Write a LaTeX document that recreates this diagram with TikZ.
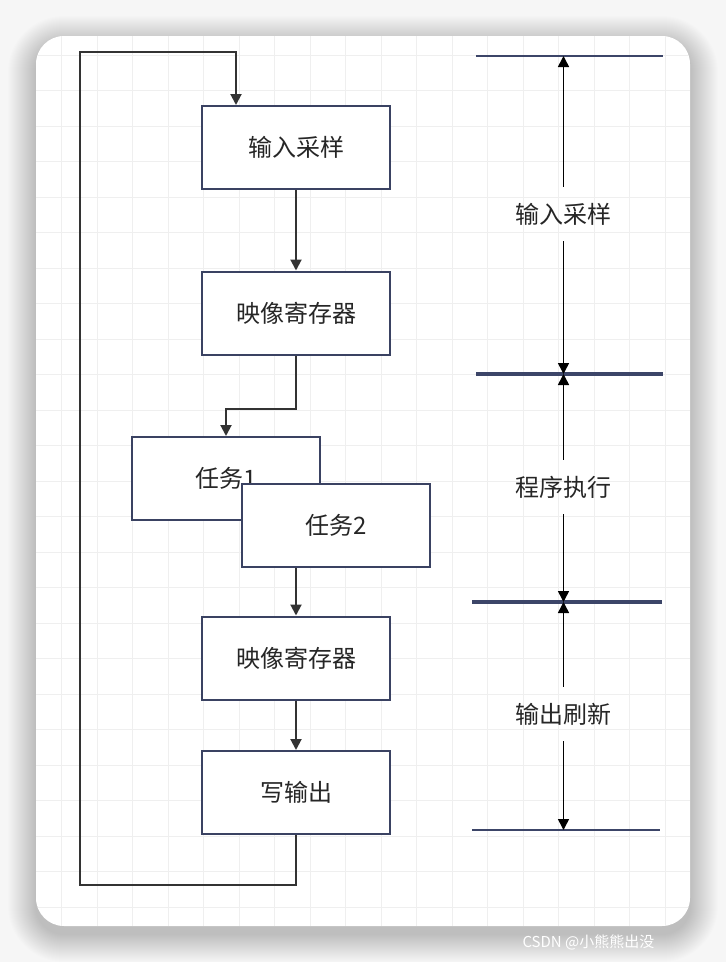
\documentclass[tikz,border=0pt]{standalone}
\usepackage{fontspec}
\setmainfont{Noto Sans CJK SC}
\usetikzlibrary{arrows.meta}

\definecolor{boxline}{HTML}{3A4262}
\definecolor{linkline}{HTML}{333333}
\definecolor{phaseline}{HTML}{3C4568}
\definecolor{gridline}{HTML}{EFEFEF}
\definecolor{pagebg}{HTML}{F6F6F6}

\begin{document}
\begin{tikzpicture}[x=1pt,y=-1pt,
    box/.style={draw=boxline,line width=2pt,fill=white,minimum width=188pt,minimum height=83pt,inner sep=0pt,font=\fontsize{24}{28}\selectfont,text=black!85},
    flow/.style={draw=linkline,line width=2pt,-{Triangle[width=11pt,length=11pt]}},
    phase/.style={draw=phaseline,line width=3.4pt},
    span/.style={draw=black,line width=1.6pt,-{Triangle[width=11pt,length=11pt]}},
    tag/.style={font=\fontsize{24}{28}\selectfont,text=black!85,inner xsep=0pt,inner ysep=16pt}]
        \useasboundingbox (0,0) rectangle (726,962);
        % page and card
        \fill[pagebg] (0,0) rectangle (726,962);
        \foreach \i in {1,...,28} {
            \pgfmathsetmacro\rr{28+\i}
            \fill[black,opacity=0.006,rounded corners=\rr pt] (36-\i,44-\i) rectangle (690+\i,934+\i);
        }
        \fill[white,rounded corners=28pt] (36,36) rectangle (690,926);
        \begin{scope}
            \clip[rounded corners=28pt] (36,36) rectangle (690,926);
            \foreach \gx in {0,...,17}
                \draw[gridline,line width=1pt] (61.5+35.5*\gx,36) -- (61.5+35.5*\gx,926);
            \foreach \gy in {0,...,24}
                \draw[gridline,line width=1pt] (36,55+35.5*\gy) -- (690,55+35.5*\gy);
        \end{scope}
        \node[anchor=west,text=white,font=\fontsize{15}{18}\selectfont] (mark) at (519,942) {CSDN @小熊熊出没};

        % scan cycle
        \node[box] (sample) at (296,147.5) {输入采样};
        \node[box] (image1) at (296,313) {映像寄存器};
        \node[box] (task1) at (226,478.5) {任务1};
        \node[box] (task2) at (336,525.5) {任务2};
        \node[box] (image2) at (296,658) {映像寄存器};
        \node[box] (write) at (296,792.5) {写输出};

        \coordinate (loopbot) at (80,885);
        \coordinate (looptop) at (80,52);

        \draw[flow] (sample) -- (image1);
        \draw[flow] (image1.south) -- ++(0,53) -| (task1.north);
        \draw[flow] (task2.south -| image2.north) -- (image2);
        \draw[flow] (image2) -- (write);
        \draw[flow] (write.south) |- (loopbot) -- (looptop) -| ([xshift=-60pt]sample.north);

        % phases
        \coordinate (p0) at (563.5,56);
        \coordinate (p1) at (563.5,374);
        \coordinate (p2) at (563.5,602);
        \coordinate (p3) at (563.5,830);
        \draw[phase,line width=2.4pt] (476,56) -- (663,56);
        \draw[phase] (476,374) -- (663,374);
        \draw[phase] (472,602) -- (662,602);
        \draw[phase,line width=2.4pt] (472,830) -- (660,830);

        \node[tag] (phase1) at (563.5,214) {输入采样};
        \node[tag] (phase2) at (563.5,487) {程序执行};
        \node[tag] (phase3) at (563.5,714) {输出刷新};

        \draw[span] (phase1) -- (p0);
        \draw[span] (phase1) -- (p1);
        \draw[span] (phase2) -- (p1);
        \draw[span] (phase2) -- (p2);
        \draw[span] (phase3) -- (p2);
        \draw[span] (phase3) -- (p3);
    \end{tikzpicture}
\end{document}
